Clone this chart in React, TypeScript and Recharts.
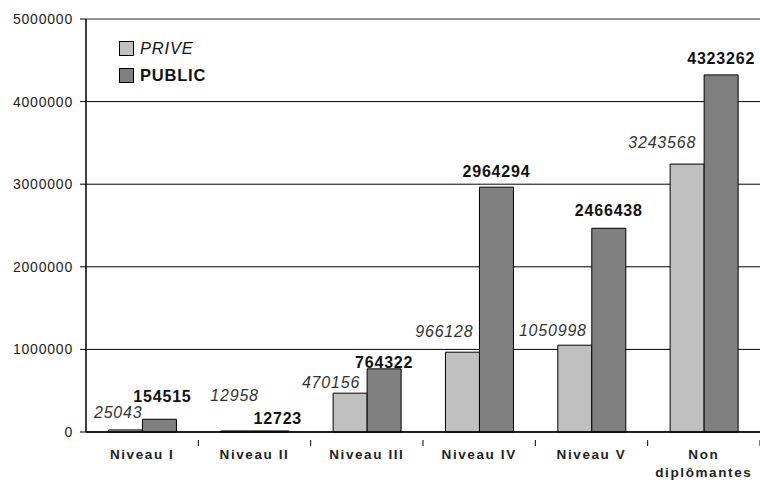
import { BarChart, Bar, XAxis, YAxis, CartesianGrid, LabelList, ReferenceLine } from 'recharts';

const categories = ['Niveau I', 'Niveau II', 'Niveau III', 'Niveau IV', 'Niveau V', 'Non diplômantes'];
const priveValues = [25043, 12958, 470156, 966128, 1050998, 3243568];
const publicValues = [154515, 12723, 764322, 2964294, 2466438, 4323262];
const yTicks = [0, 1000000, 2000000, 3000000, 4000000, 5000000];

// label nudges, as placed in the original
const priveDx = [0, 4, -7, -6, -5, -8];
const priveLift = [17, 35, 11, 21, 15, 22];
const publicDx = [3, 6, 0, 0, 0, 0];
const publicLift = [23, 12, 6, 16, 18, 16];

const data = categories.map((name, i) => ({
  name,
  prive: priveValues[i],
  public: publicValues[i],
}));

const FONT = '"Liberation Sans", Arial, sans-serif';
const W = 760;
const H = 482;
const LEFT = 86;
const BAND = (W - LEFT) / categories.length;

const COLORS = {
  prive: '#c0c0c0',
  public: '#808080',
};

function XTick({ x, y, payload }: any) {
  const words = payload.value === 'Non diplômantes' ? ['Non', 'diplômantes'] : [payload.value];
  return (
    <g>
      <line x1={x + BAND / 2} x2={x + BAND / 2} y1={y} y2={y + 6} stroke="#000" />
      {words.map((w, i) => (
        <text
          key={i}
          x={x}
          y={y + 19 + i * 18}
          textAnchor="middle"
          fontFamily={FONT}
          fontSize={13.5}
          fontWeight="bold"
          letterSpacing={1.6}
          fill="#222"
        >
          {w}
        </text>
      ))}
    </g>
  );
}

function PriveLabel(props: any) {
  const { x, y, width, value, index } = props;
  return (
    <text
      x={x + width + priveDx[index]}
      y={y - priveLift[index]}
      textAnchor="end"
      dominantBaseline="central"
      fontFamily={FONT}
      fontSize={16}
      fontStyle="italic"
      letterSpacing={0.8}
      fill="#333"
    >
      {value}
    </text>
  );
}

function PublicLabel(props: any) {
  const { x, y, width, value, index } = props;
  return (
    <text
      x={x + width / 2 + publicDx[index]}
      y={y - publicLift[index]}
      textAnchor="middle"
      dominantBaseline="central"
      fontFamily={FONT}
      fontSize={16}
      fontWeight="bold"
      letterSpacing={0.8}
      fill="#111"
    >
      {value}
    </text>
  );
}

function LegendBox() {
  const items = [
    { label: 'PRIVE', color: COLORS.prive, italic: true },
    { label: 'PUBLIC', color: COLORS.public, italic: false },
  ];
  return (
    <div style={{ position: 'absolute', left: 119, top: 35, fontFamily: FONT, fontSize: 16.5, color: '#111' }}>
      {items.map(it => (
        <div key={it.label} style={{ display: 'flex', alignItems: 'center', height: 27 }}>
          <span
            style={{
              display: 'inline-block',
              width: 13,
              height: 13,
              background: it.color,
              border: '1px solid #000',
              marginRight: 6,
            }}
          />
          <span style={{ fontStyle: it.italic ? 'italic' : 'normal', fontWeight: it.italic ? 'normal' : 'bold', letterSpacing: 0.8 }}>
            {it.label}
          </span>
        </div>
      ))}
    </div>
  );
}

export default function App() {
  return (
    <div style={{ position: 'absolute', left: 0, top: 0, width: W, height: H, background: '#fff' }}>
      <BarChart
        width={W}
        height={H}
        data={data}
        margin={{ top: 19, right: 0, bottom: 0, left: 0 }}
        barCategoryGap="20%"
        barGap={0}
      >
        <CartesianGrid vertical={false} stroke="#000" strokeWidth={1} />
        <ReferenceLine y={5000000} stroke="#999" strokeWidth={1.5} />
        <XAxis
          dataKey="name"
          height={50}
          axisLine={{ stroke: '#000', strokeWidth: 1.5 }}
          tickLine={false}
          tick={<XTick />}
          interval={0}
        />
        <YAxis
          width={LEFT}
          domain={[0, 5000000]}
          ticks={yTicks}
          interval={0}
          axisLine={{ stroke: '#000', strokeWidth: 1.5 }}
          tickLine={{ stroke: '#000' }}
          tickSize={6}
          tickMargin={7}
          tick={{ fontFamily: FONT, fontSize: 14, fill: '#222', letterSpacing: 0.8 }}
        />
        <Bar dataKey="prive" name="PRIVE" fill={COLORS.prive} stroke="#000" strokeWidth={1} isAnimationActive={false}>
          <LabelList dataKey="prive" content={<PriveLabel />} />
        </Bar>
        <Bar dataKey="public" name="PUBLIC" fill={COLORS.public} stroke="#000" strokeWidth={1} isAnimationActive={false}>
          <LabelList dataKey="public" content={<PublicLabel />} />
        </Bar>
      </BarChart>
      <LegendBox />
    </div>
  );
}
